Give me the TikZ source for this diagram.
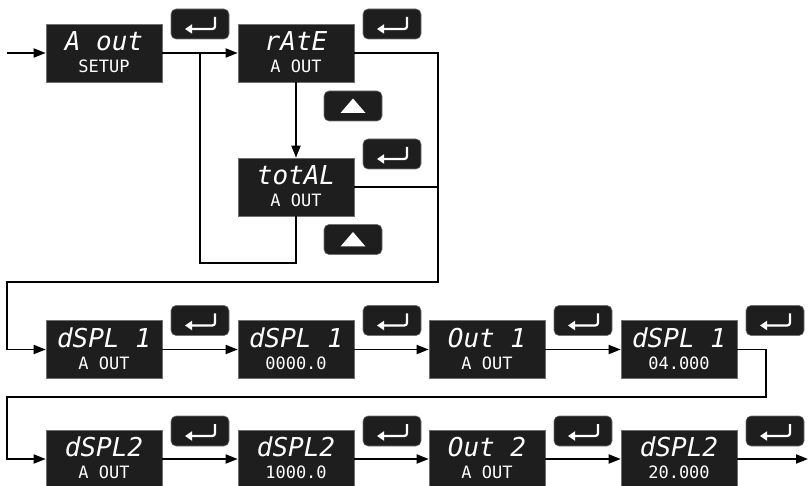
\documentclass[tikz,border=0pt]{standalone}
\usepackage{fontspec}
\newfontfamily\segfont{DejaVu Sans Mono}
\usetikzlibrary{arrows.meta}
\definecolor{panel}{HTML}{1E1E1E}
\definecolor{rim}{HTML}{707070}
\newcommand\dispunit[5]{%
  \node[disp] (#1) at (#2,#3) {};
  \node[toptext] (#1t) at ([yshift=-27pt]#1.north) {#4};
  \node[bottext] (#1b) at ([yshift=-49pt]#1.north) {#5};
}
\begin{document}
\begin{tikzpicture}[x=1pt,y=-1pt,line width=1.8pt,
  >={Triangle[length=12pt,width=9pt]},
  disp/.style={draw=rim,line width=0.6pt,fill=panel,minimum width=116pt,minimum height=58pt,inner sep=0pt},
  keybtn/.style={draw=rim,line width=0.6pt,fill=panel,rounded corners=5pt,minimum width=58pt,minimum height=30pt,inner sep=0pt},
  enterkey/.style={keybtn,path picture={
     \begin{scope}[shift={(path picture bounding box.center)}]
       \draw[white,line width=2.2pt,sharp corners,-{Triangle[length=7pt,width=9pt]}]
         (15,-7) -- (15,-1) .. controls (15,5) .. (9,5) -- (-15,5);
     \end{scope}}},
  upkey/.style={keybtn,path picture={
     \begin{scope}[shift={(path picture bounding box.center)}]
       \fill[white,sharp corners] (-12.5,7) -- (12.5,7) -- (0,-7.5) -- cycle;
     \end{scope}}},
  toptext/.style={text=white,anchor=base,inner sep=0pt,font=\segfont\itshape\fontsize{26}{26}\selectfont},
  bottext/.style={text=white,anchor=base,inner sep=0pt,font=\segfont\fontsize{17}{17}\selectfont}
]
\useasboundingbox (0,0) rectangle (809,486);
\clip (0,0) rectangle (809,486);

% display units
\dispunit{aout}{104}{53}{A out}{SETUP}
\dispunit{rate}{296}{53}{rAtE}{A OUT}
\dispunit{total}{296}{187}{totAL}{A OUT}
\dispunit{dOneA}{104}{349.5}{dSPL 1}{A OUT}
\dispunit{dOneB}{296}{349.5}{dSPL 1}{0000.0}
\dispunit{oOne}{487}{349.5}{Out 1}{A OUT}
\dispunit{dOneC}{679}{349.5}{dSPL 1}{04.000}
\dispunit{dTwoA}{104}{459}{dSPL2}{A OUT}
\dispunit{dTwoB}{296}{459}{dSPL2}{1000.0}
\dispunit{oTwo}{487}{459}{Out 2}{A OUT}
\dispunit{dTwoC}{679}{459}{dSPL2}{20.000}

% keys
\node[enterkey] (k1) at (200,24) {};
\node[enterkey] (k2) at (392,24) {};
\node[enterkey] (k3) at (392,154) {};
\node[upkey] (u1) at (353,106) {};
\node[upkey] (u2) at (353,239.5) {};
\node[enterkey] (k4) at (200,320.5) {};
\node[enterkey] (k5) at (392,320.5) {};
\node[enterkey] (k6) at (583,320.5) {};
\node[enterkey] (k7) at (775,320.5) {};
\node[enterkey] (k8) at (200,431) {};
\node[enterkey] (k9) at (392,431) {};
\node[enterkey] (k10) at (583,431) {};
\node[enterkey] (k11) at (775,431) {};

% connector coordinates
\coordinate (start) at (7,53);
\coordinate (jn) at (200,53);
\coordinate (lp) at (200,263);
\coordinate (ra) at (438,282);
\coordinate (la) at (7,282);
\coordinate (rb) at (766,397);
\coordinate (lb) at (7,397);
\coordinate (fin) at (808,459);

% connectors
\draw[->] (start) -- (aout);
\draw[->] (aout) -- (rate);
\draw[->] (rate) -- (total);
\draw (total.south) |- (lp) -- (jn);
\draw[->] (rate.east) -| (ra) -- (la) |- (dOneA.west);
\draw (total.east) -- (total.east -| ra);
\draw[->] (dOneA) -- (dOneB);
\draw[->] (dOneB) -- (oOne);
\draw[->] (oOne) -- (dOneC);
\draw[->] (dOneC.east) -| (rb) -- (lb) |- (dTwoA.west);
\draw[->] (dTwoA) -- (dTwoB);
\draw[->] (dTwoB) -- (oTwo);
\draw[->] (oTwo) -- (dTwoC);
\draw[->] (dTwoC) -- (fin);
\end{tikzpicture}
\end{document}
